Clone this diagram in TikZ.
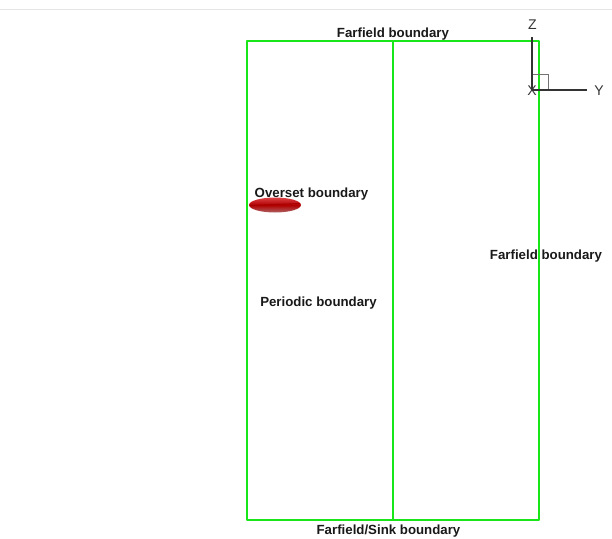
\documentclass[tikz,border=0pt]{standalone}
\usepackage{fontspec}
\setmainfont{Liberation Sans}
\usepackage{xcolor}
\usetikzlibrary{positioning}
\definecolor{bndgreen}{RGB}{25,230,25}
\definecolor{bodyred}{RGB}{215,45,50}
\tikzset{
  bndline/.style={draw=bndgreen,line width=0.9pt,line join=round},
  bndlabel/.style={font=\bfseries\fontsize{7.55}{8}\selectfont,text=black!90,inner sep=0pt},
  axisline/.style={draw=black!80,line width=0.8pt},
  axislabel/.style={font=\fontsize{8}{9}\selectfont,text=black!80,inner sep=0pt}
}
\begin{document}
\begin{tikzpicture}[x=0.02cm,y=-0.02cm]
  \useasboundingbox (0,0) rectangle (612,538);
  % page rule on top
  \coordinate (ruleL) at (0,9);
  \coordinate (ruleR) at (612,9);
  \draw[black!10,line width=0.4pt] (ruleL) -- (ruleR);
  % domain
  \coordinate (nw) at (247,41);
  \coordinate (ne) at (539,41);
  \coordinate (se) at (539,520);
  \coordinate (sw) at (247,520);
  \coordinate (midN) at (393,41);
  \coordinate (midS) at (393,520);
  \draw[bndline] (nw) -- (ne) -- (se) -- (sw) -- cycle;
  \draw[bndline] (midN) -- (midS);
  % body
  \shade[top color=bodyred!90!white,bottom color=black!35!bodyred!70!white,middle color=red!70!black]
    (275,205) ellipse (26 and 7.5);
  \draw[red!65!black,line width=0.5pt] (250,205.5) -- (300,203.5);
  % labels
  \node[bndlabel] (top) at (393,34) {Farfield boundary};
  \node[bndlabel] (oset) at (311.5,194) {Overset boundary};
  \node[bndlabel] (right) at (546,256) {Farfield boundary};
  \node[bndlabel] (per) at (318.5,303) {Periodic boundary};
  \node[bndlabel] (bot) at (388.5,531) {Farfield/Sink boundary};
  % axes
  \coordinate (orig) at (532,90);
  \coordinate (zEnd) at (532,37);
  \coordinate (yEnd) at (587,90);
  \draw[black!55,line width=0.55pt] (532,74) rectangle (548.5,90);
  \draw[axisline] (orig) -- (zEnd);
  \draw[axisline] (orig) -- (yEnd);
  \node[axislabel] (zLab) at (532.5,24.5) {Z};
  \node[axislabel] (yLab) at (599,90.5) {Y};
  \node[axislabel] (xLab) at (532,90.5) {X};
\end{tikzpicture}
\end{document}
